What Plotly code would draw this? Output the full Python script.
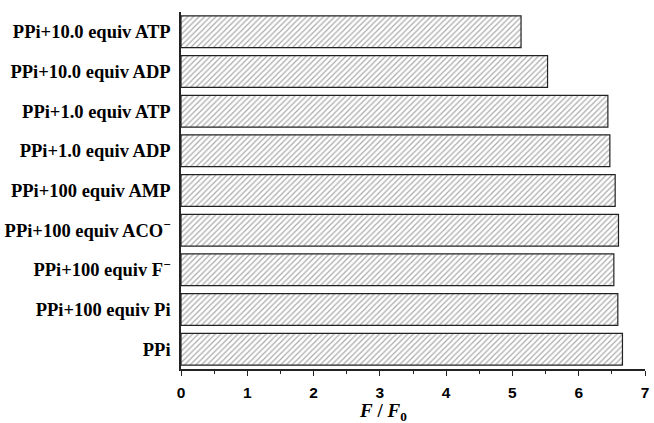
import plotly.graph_objects as go

categories = [
    "PPi",
    "PPi+100 equiv Pi",
    "PPi+100 equiv F<sup>−</sup>",
    "PPi+100 equiv ACO<sup>−</sup>",
    "PPi+100 equiv AMP",
    "PPi+1.0 equiv ADP",
    "PPi+1.0 equiv ATP",
    "PPi+10.0 equiv ADP",
    "PPi+10.0 equiv ATP",
]
values = [6.66, 6.59, 6.53, 6.60, 6.55, 6.47, 6.44, 5.53, 5.13]
x_ticks = [0, 1, 2, 3, 4, 5, 6, 7]

fig = go.Figure()
fig.add_trace(go.Bar(
    y=list(range(len(categories))),
    x=values,
    orientation="h",
    width=0.8,
    marker=dict(
        color="white",
        line=dict(color="#222222", width=1.2),
        pattern=dict(shape="/", fgcolor="#555555", bgcolor="white", size=4, solidity=0.3),
    ),
))

fig.update_layout(
    width=654, height=423,
    margin=dict(l=181, r=5, t=12, b=54),
    plot_bgcolor="white", paper_bgcolor="white",
    showlegend=False,
    bargap=0.2,
)
fig.update_xaxes(
    range=[0, 7.0], tickvals=x_ticks, ticktext=[str(t) for t in x_ticks],
    showline=True, linecolor="#222222", linewidth=1.5,
    ticks="outside", ticklen=5, tickwidth=1.2, tickcolor="#222222",
    minor=dict(ticks="outside", ticklen=3, tickwidth=1, tickcolor="#222222", dtick=0.5),
    showgrid=False, zeroline=False,
    ticklabelstandoff=4,
    tickfont=dict(family="Liberation Sans", size=15.5, color="black", weight="bold"),
)
fig.update_yaxes(
    range=[-0.5, 8.5],
    tickvals=list(range(len(categories))), ticktext=categories,
    showline=True, linecolor="#222222", linewidth=1.5,
    ticks="", showgrid=False, zeroline=False,
    ticklabelstandoff=5,
    tickfont=dict(family="Liberation Serif", size=18.5, color="black", weight="bold"),
)
fig.add_annotation(
    xref="paper", yref="paper", x=(385 - 181) / 468, y=-(412 - 369) / 357,
    text="<i>F</i> / <i>F</i><sub>0</sub>", showarrow=False,
    font=dict(family="Liberation Serif", size=19, color="black", weight="bold"),
    xanchor="center", yanchor="middle",
)
fig.write_html("out.html")
